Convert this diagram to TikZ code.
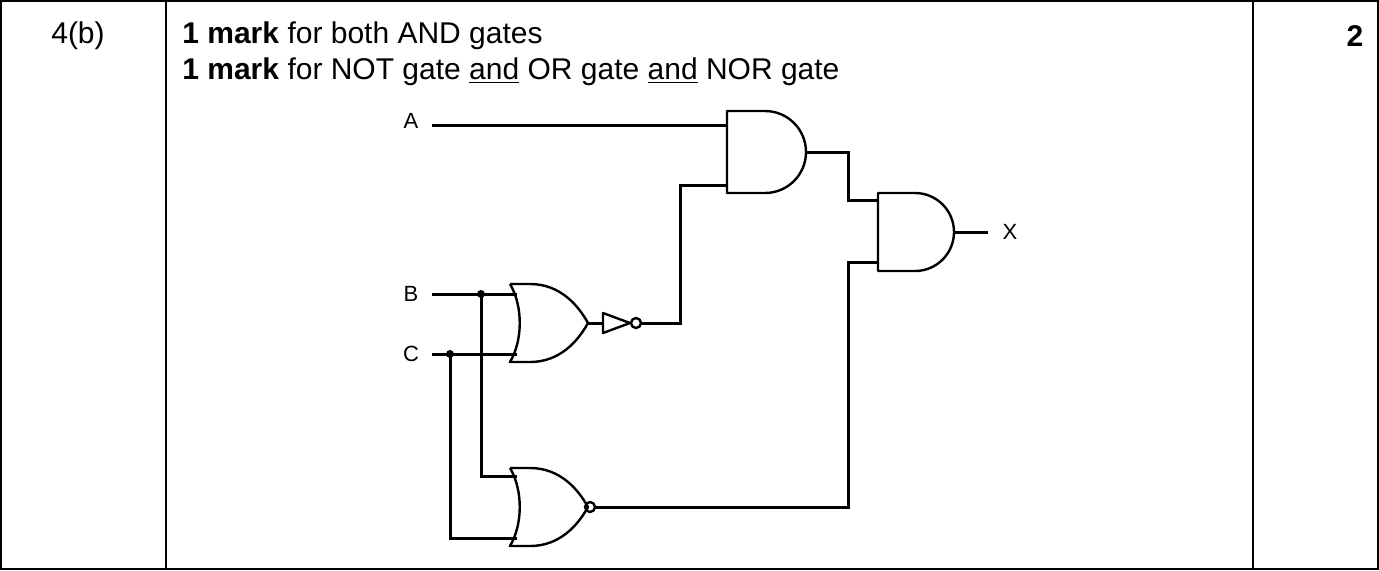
\documentclass[tikz,border=0pt]{standalone}
\usepackage{fontspec}
\setmainfont{Liberation Sans}
\begin{document}
\begin{tikzpicture}[x=0.5pt,y=-0.5pt,
  w/.style={line width=1.5pt},
  g/.style={line width=1.2pt,line join=round},
  tx/.style={font=\fontsize{15}{17}\selectfont,inner sep=0},
  lb/.style={font=\fontsize{11}{13}\selectfont,inner sep=0},
  dot/.style={circle,fill,inner sep=0,minimum size=4pt}]
\useasboundingbox (0,0) rectangle (1379,570);
\draw[line width=0.6pt] (1,1) rectangle (1378,569);
\draw[line width=0.6pt] (166,1) -- (166,569) (1253,1) -- (1253,569);
\node[tx] (q) at (78,36) {4(b)};
\node[tx,anchor=west] (l1) at (182,36) {\textbf{1 mark} for both AND gates};
\node[tx,anchor=west] (l2) at (182,72) {\textbf{1 mark} for NOT gate \underline{and} OR gate \underline{and} NOR gate};
\node[tx] (m) at (1355,36) {\textbf{2}};
% labels
\node[lb] (A) at (411,121) {A};
\node[lb] (B) at (411,294) {B};
\node[lb] (C) at (411,354) {C};
\node[lb] (X) at (1010,232) {X};
% gates
\draw[g] (727,111) -- (765,111) arc (-90:90:41) -- (727,193) -- cycle;
\draw[g] (878,193) -- (915,193) arc (-90:90:39) -- (878,271) -- cycle;
\draw[g] (510,284) -- (530,284) .. controls (560,284) and (578,305) .. (588,323) .. controls (578,341) and (560,362) .. (530,362) -- (510,362) .. controls (523,340) and (523,306) .. (510,284);
\draw[g] (510,468) -- (530,468) .. controls (560,468) and (578,489) .. (588,507) .. controls (578,525) and (560,546) .. (530,546) -- (510,546) .. controls (523,524) and (523,490) .. (510,468);
\draw[g] (590,507) circle (5);
\draw[g] (603,313) -- (630,323) -- (603,333) -- cycle;
\draw[g] (636,323) circle (5);
% wires
\coordinate (a1) at (727,125);
\draw[w] (432,125) -- (a1);
\draw[w] (806,152) -| (848,200) -- (878,200);
\draw[w] (641,323) -- (680,323) |- (727,185);
\draw[w] (954,232) -- (988,232);
\draw[w] (595,507) -- (848,507) |- (878,262);
\draw[w] (432,294) -- (517,294);
\draw[w] (432,354) -- (517,354);
\draw[w] (481,294) |- (517,476);
\draw[w] (450,354) |- (517,538);
\draw[w] (588,323) -- (603,323);
\node[dot] (d1) at (481,294) {};
\node[dot] (d2) at (450,354) {};
\end{tikzpicture}
\end{document}
